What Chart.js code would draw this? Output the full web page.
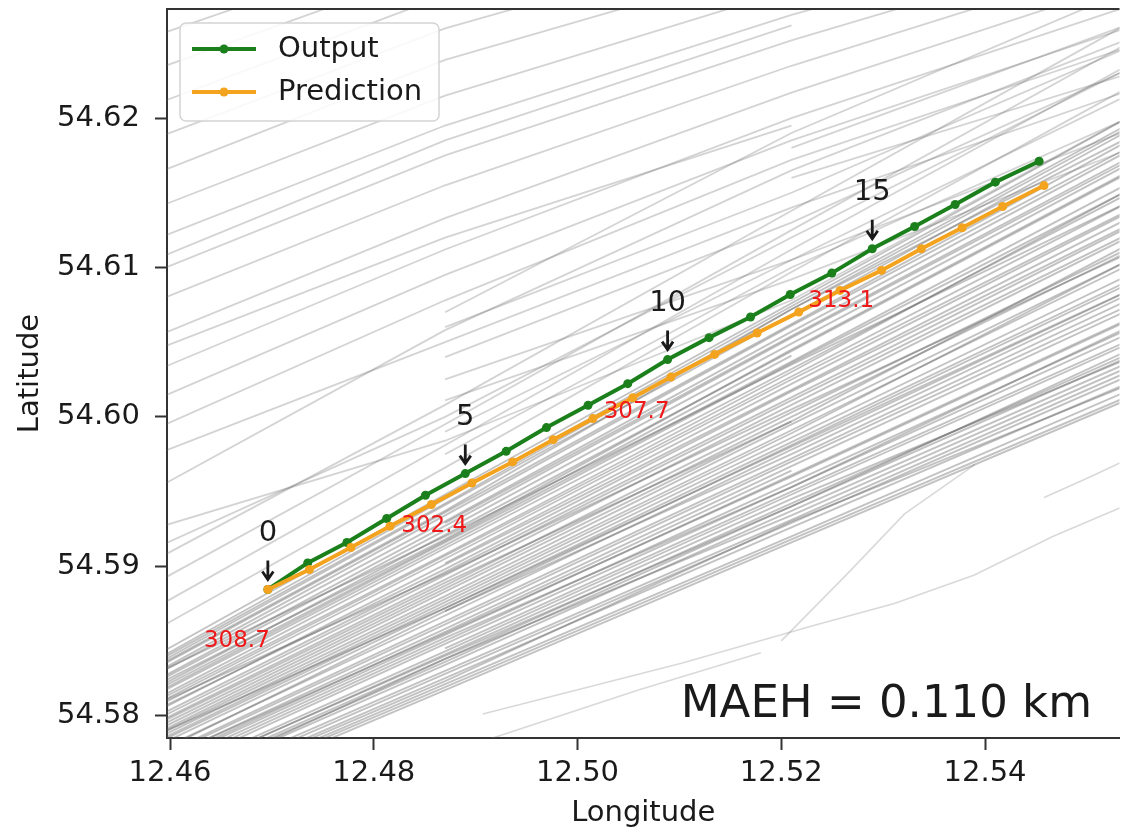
<!DOCTYPE html>
<html>
<head>
<meta charset="utf-8">
<title>Track prediction</title>
<script src="https://cdn.jsdelivr.net/npm/chart.js@4.4.1/dist/chart.umd.min.js"></script>
<style>
  html, body { margin: 0; padding: 0; background: #fff; }
  #wrap { width: 1124px; height: 833px; position: relative; }
</style>
</head>
<body>
<div id="wrap"><canvas id="trackChart"></canvas></div>
<script>
// Ground truth track (Output) and model track (Prediction), one point per step
const outputLon = [12.46960, 12.47351, 12.47736, 12.48127, 12.48507, 12.48898, 12.49299, 12.49695, 12.50103, 12.50493,
                   12.50884, 12.51291, 12.51698, 12.52088, 12.52496, 12.52893, 12.53309, 12.53707, 12.54101, 12.54531];
const outputLat = [54.58844, 54.59022, 54.59159, 54.59319, 54.59475, 54.59620, 54.59769, 54.59928, 54.60077, 54.60222,
                   54.60383, 54.60530, 54.60668, 54.60819, 54.60962, 54.61125, 54.61274, 54.61421, 54.61571, 54.61711];
const predLon = [12.46960, 12.47368, 12.47775, 12.48159, 12.48566, 12.48963, 12.49363, 12.49761, 12.50151, 12.50542,
                 12.50916, 12.51346, 12.51763, 12.52171, 12.52577, 12.52984, 12.53375, 12.53775, 12.54173, 12.54579];
const predLat = [54.58844, 54.58978, 54.59125, 54.59268, 54.59413, 54.59557, 54.59698, 54.59847, 54.59988, 54.60128,
                 54.60266, 54.60418, 54.60561, 54.60701, 54.60846, 54.60980, 54.61125, 54.61266, 54.61408, 54.61548];

// steps that get a number + arrow, and the heading shown at each of them
const markedSteps = [0, 5, 10, 15];
const headings = [308.7, 302.4, 307.7, 313.1];
const maeh = 0.110;

const lonTicks = [12.46, 12.48, 12.50, 12.52, 12.54];
const latTicks = [54.58, 54.59, 54.60, 54.61, 54.62];

// other vessels in the area: latitude of each track at these longitudes (null = no data there)
const laneLon = [12.453, 12.487, 12.521, 12.559];

// tracks north of the main one
const northLat = [
  [54.5836, 54.5966, 54.6097, 54.6239],
  [54.5851, 54.5981, 54.6112, 54.6254],
  [54.5868, 54.5995, 54.6125, 54.6269],
  [54.5884, 54.6008, 54.6138, 54.6282],
  [54.5931, 54.6058, 54.6165, 54.6266],
  [54.5914, 54.5984, 54.6078, 54.6219],
  [null,    54.6025, 54.6105, 54.6205],
  [null,    54.6011, 54.6092, 54.6192],
  [null,    54.5990, 54.6105, 54.6232],
  [null,    54.6040, 54.6130, 54.6248],
  [null,    54.6060, 54.6150, 54.6262],
  [null,    null,    54.6160, 54.6240],
  [null,    null,    54.6180, 54.6275],
  [null,    54.6070, 54.6190, 54.6300],
  [54.5960, 54.6050, 54.6140, 54.6230],
  [54.5895, 54.6000, 54.6120, 54.6250],
  [null,    54.5975, 54.6100, 54.6215],
  [54.5975, 54.6078, 54.6172, 54.6259],
  [54.5995, 54.6095, 54.6185, 54.6272],
  [54.6015, 54.6112, 54.6200, 54.6286],
  [54.6038, 54.6133, 54.6217, 54.6302],
  [54.6062, 54.6155, 54.6235, 54.6316],
  [54.6082, 54.6175, 54.6252, 54.6329],
  [54.6104, 54.6195, 54.6269, 54.6342],
  [54.6125, 54.6215, 54.6286, 54.6359],
  [54.6148, 54.6239, 54.6306, null],
  [54.6172, 54.6260, 54.6326, null],
  [54.6195, 54.6282, 54.6353, null],
  [54.6219, 54.6302, 54.6373, null],
  [54.6242, 54.6322, null,    null],
  [54.6030, 54.6120, 54.6195, null],
  [54.6090, 54.6185, 54.6262, null]
];

// the busy lane just south of it
const laneSouthLat = [
  [54.5819, 54.5948, 54.6076, 54.6219],
  [54.5816, 54.5945, 54.6074, 54.6214],
  [54.5815, 54.5942, 54.6072, 54.6212],
  [54.5813, 54.5941, 54.6068, 54.6210],
  [54.5812, 54.5937, 54.6072, 54.6204],
  [54.5811, 54.5936, 54.6062, 54.6203],
  [54.5808, 54.5934, 54.6061, 54.6198],
  [54.5807, 54.5930, 54.6057, 54.6196],
  [null,    54.5929, 54.6054, 54.6191],
  [54.5803, 54.5927, 54.6053, 54.6189],
  [54.5802, 54.5924, 54.6049, 54.6187],
  [54.5801, 54.5918, 54.6045, 54.6182],
  [54.5798, 54.5921, 54.6044, 54.6181],
  [54.5797, 54.5917, 54.6041, null],
  [54.5795, 54.5916, 54.6037, 54.6174],
  [54.5794, 54.5914, 54.6036, 54.6169],
  [54.5791, 54.5912, 54.6032, 54.6167],
  [54.5790, 54.5908, 54.6030, 54.6170],
  [54.5788, 54.5907, 54.6027, 54.6161],
  [54.5786, 54.5905, 54.6025, 54.6155],
  [null,    54.5902, 54.6022, 54.6154],
  [54.5783, 54.5901, 54.6018, 54.6150],
  [54.5785, 54.5898, 54.6017, 54.6145],
  [54.5780, 54.5896, 54.6013, 54.6144],
  [54.5778, 54.5894, 54.6011, 54.6139],
  [54.5776, 54.5891, 54.6008, 54.6137],
  [54.5775, 54.5889, 54.5997, 54.6133],
  [54.5773, 54.5887, 54.6003, 54.6129],
  [54.5771, 54.5885, 54.6000, 54.6127],
  [54.5769, 54.5883, 54.5997, null],
  [54.5768, 54.5880, 54.5995, 54.6121],
  [54.5766, 54.5878, 54.5991, 54.6118],
  [54.5764, 54.5876, 54.5989, 54.6122],
  [54.5763, 54.5874, 54.5986, 54.6111],
  [54.5761, 54.5872, 54.5983, 54.6107],
  [null,    54.5870, 54.5981, 54.6105],
  [54.5758, 54.5867, 54.5978, 54.6100],
  [54.5756, 54.5870, 54.5975, 54.6098],
  [54.5754, 54.5863, 54.5972, 54.6094],
  [54.5753, 54.5861, 54.5970, 54.6090],
  [54.5751, 54.5858, 54.5967, 54.6087],
  [54.5749, 54.5856, 54.5964, null],
  [54.5748, 54.5854, 54.5961, 54.6081],
  [54.5746, 54.5852, 54.5953, 54.6076],
  [54.5744, 54.5850, 54.5956, 54.6074],
  [54.5742, 54.5848, 54.5953, 54.6071],
  [null,    54.5845, 54.5950, 54.6066],
  [54.5739, 54.5843, 54.5948, 54.6064],
  [54.5737, 54.5841, 54.5945, 54.6053],
  [54.5735, 54.5838, 54.5942, 54.6057],
  [54.5734, 54.5836, 54.5940, 54.6055],
  [54.5732, 54.5834, 54.5937, 54.6051],
  [54.5730, 54.5838, 54.5934, 54.6048],
  [54.5729, 54.5830, 54.5931, 54.6045],
  [54.5727, 54.5828, 54.5929, 54.6042],
  [54.5725, 54.5825, 54.5926, 54.6037],
  [54.5724, 54.5823, 54.5930, 54.6035],
  [54.5722, 54.5821, 54.5920, 54.6032],
  [54.5721, 54.5819, 54.5918, 54.6028],
  [54.5719, 54.5817, 54.5916, 54.6026],
  [54.5810, 54.5920, 54.6035, 54.6160],
  [54.5790, 54.5895, 54.6005, 54.6125],
  [54.5770, 54.5872, 54.5980, 54.6100],
  [54.5752, 54.5855, 54.5960, 54.6080],
  [54.5738, 54.5840, 54.5940, 54.6060]
];

// a few tracks in the quiet south-east corner
const strayTracks = [
  [[12.4907, 54.5801], [12.5102, 54.5835], [12.5230, 54.5860], [12.5311, 54.5875], [12.5389, 54.5894], [12.5467, 54.5920], [12.5560, 54.5947]],
  [[12.5200, 54.5850], [12.5265, 54.5895], [12.5321, 54.5935], [12.5390, 54.5968]],
  [[12.5458, 54.5946], [12.5504, 54.5960], [12.5560, 54.5978]],
  [[12.4850, 54.5770], [12.5059, 54.5817], [12.5180, 54.5842]]
];

const FONT = '"DejaVu Sans", sans-serif';
const GREEN = '#1b801b';
const ORANGE = '#f4a31f';
const INK = '#1a1a1a';

function laneDataset(lats, color, width) {
  return {
    data: laneLon.map((lon, i) => ({ x: lon, y: lats[i] })).filter(p => p.y !== null),
    borderColor: color,
    borderWidth: width,
    pointRadius: 0,
    showLine: true
  };
}

const backgroundSets = [
  ...northLat.map(lats => laneDataset(lats, 'rgba(110,110,110,0.30)', 1.8)),
  ...laneSouthLat.map(lats => laneDataset(lats, 'rgba(95,95,95,0.38)', 1.9)),
  ...strayTracks.map(track => ({
    data: track.map(([lon, lat]) => ({ x: lon, y: lat })),
    borderColor: 'rgba(110,110,110,0.26)',
    borderWidth: 1.6,
    pointRadius: 0,
    showLine: true
  }))
];

// step labels, arrows, headings and the error figure
const trackMarks = {
  id: 'trackMarks',
  afterDatasetsDraw(chart) {
    const { ctx, scales: { x, y }, chartArea } = chart;
    ctx.save();
    markedSteps.forEach((step, i) => {
      const px = x.getPixelForValue(outputLon[step]);
      const py = y.getPixelForValue(outputLat[step]);

      ctx.fillStyle = INK;
      ctx.font = '29px ' + FONT;
      ctx.textAlign = 'center';
      ctx.textBaseline = 'middle';
      ctx.fillText(String(step), px, py - 56);

      ctx.strokeStyle = INK;
      ctx.lineWidth = 2.8;
      ctx.lineJoin = 'miter';
      ctx.beginPath();
      ctx.moveTo(px, py - 29);
      ctx.lineTo(px, py - 10);
      ctx.moveTo(px - 5.5, py - 18);
      ctx.lineTo(px, py - 10);
      ctx.lineTo(px + 5.5, py - 18);
      ctx.stroke();

      ctx.fillStyle = '#f01818';
      ctx.font = '23px ' + FONT;
      ctx.fillText(headings[i].toFixed(1), px - 31, py + 52);
    });

    ctx.fillStyle = INK;
    ctx.font = '45px ' + FONT;
    ctx.textAlign = 'right';
    ctx.textBaseline = 'alphabetic';
    ctx.fillText(`MAEH = ${maeh.toFixed(3)} km`, 1092, chartArea.bottom - 21);
    ctx.restore();
  },
  afterDraw(chart) {
    const { ctx, chartArea } = chart;
    ctx.save();
    // top frame line
    ctx.strokeStyle = '#333';
    ctx.lineWidth = 2;
    ctx.beginPath();
    ctx.moveTo(chartArea.left, chartArea.top);
    ctx.lineTo(chartArea.right, chartArea.top);
    ctx.stroke();

    // legend box in the upper left corner
    const bx = chartArea.left + 13, by = chartArea.top + 14, bw = 259, bh = 98;
    ctx.fillStyle = 'rgba(255,255,255,0.85)';
    ctx.strokeStyle = '#d4d4d4';
    ctx.lineWidth = 1.5;
    ctx.beginPath();
    ctx.roundRect(bx, by, bw, bh, 6);
    ctx.fill();
    ctx.stroke();

    const items = [chart.data.datasets[1], chart.data.datasets[0]];
    items.forEach((ds, i) => {
      const ly = by + 26 + i * 43;
      ctx.strokeStyle = ds.borderColor;
      ctx.lineWidth = 4;
      ctx.beginPath();
      ctx.moveTo(bx + 12, ly);
      ctx.lineTo(bx + 76, ly);
      ctx.stroke();
      ctx.fillStyle = ds.borderColor;
      ctx.beginPath();
      ctx.arc(bx + 44, ly, 4.5, 0, Math.PI * 2);
      ctx.fill();
      ctx.fillStyle = INK;
      ctx.font = '29px ' + FONT;
      ctx.textAlign = 'left';
      ctx.textBaseline = 'middle';
      ctx.fillText(ds.label, bx + 98, ly);
    });
    ctx.restore();
  }
};

const axisCommon = {
  type: 'linear',
  border: { display: true, color: '#333', width: 2 },
  grid: { drawOnChartArea: false, drawTicks: true, tickLength: 12, tickWidth: 2, tickColor: '#333' }
};

new Chart(document.getElementById('trackChart'), {
  type: 'scatter',
  data: {
    datasets: [
      {
        label: 'Prediction',
        data: predLon.map((lon, i) => ({ x: lon, y: predLat[i] })),
        borderColor: ORANGE,
        backgroundColor: ORANGE,
        borderWidth: 4,
        pointRadius: 4.5,
        pointBorderWidth: 0,
        showLine: true
      },
      {
        label: 'Output',
        data: outputLon.map((lon, i) => ({ x: lon, y: outputLat[i] })),
        borderColor: GREEN,
        backgroundColor: GREEN,
        borderWidth: 4,
        pointRadius: 4.5,
        pointBorderWidth: 0,
        showLine: true
      },
      ...backgroundSets
    ]
  },
  options: {
    responsive: true,
    maintainAspectRatio: false,
    animation: false,
    events: [],
    layout: { padding: { top: 9, right: 0, bottom: 0, left: 0 } },
    plugins: { legend: { display: false }, tooltip: { enabled: false } },
    scales: {
      x: {
        ...axisCommon,
        min: 12.4597,
        max: 12.5532,
        afterBuildTicks: axis => { axis.ticks = lonTicks.map(v => ({ value: v })); },
        afterFit: axis => { axis.height = 95; axis.paddingLeft = 0; axis.paddingRight = 0; },
        ticks: { color: INK, padding: 6, font: { family: FONT, size: 29 }, callback: v => v.toFixed(2) },
        title: { display: true, text: 'Longitude', color: INK, font: { family: FONT, size: 29 }, padding: { top: 0, bottom: 2 } }
      },
      y: {
        ...axisCommon,
        min: 54.5785,
        max: 54.6273,
        afterBuildTicks: axis => { axis.ticks = latTicks.map(v => ({ value: v })); },
        afterFit: axis => { axis.width = 167; axis.paddingTop = 0; axis.paddingBottom = 0; },
        ticks: { color: INK, padding: 15, font: { family: FONT, size: 29 }, callback: v => v.toFixed(2) },
        title: { display: true, text: 'Latitude', color: INK, font: { family: FONT, size: 29 }, padding: { top: 13, bottom: 0 } }
      }
    }
  },
  plugins: [trackMarks]
});
</script>
</body>
</html>
